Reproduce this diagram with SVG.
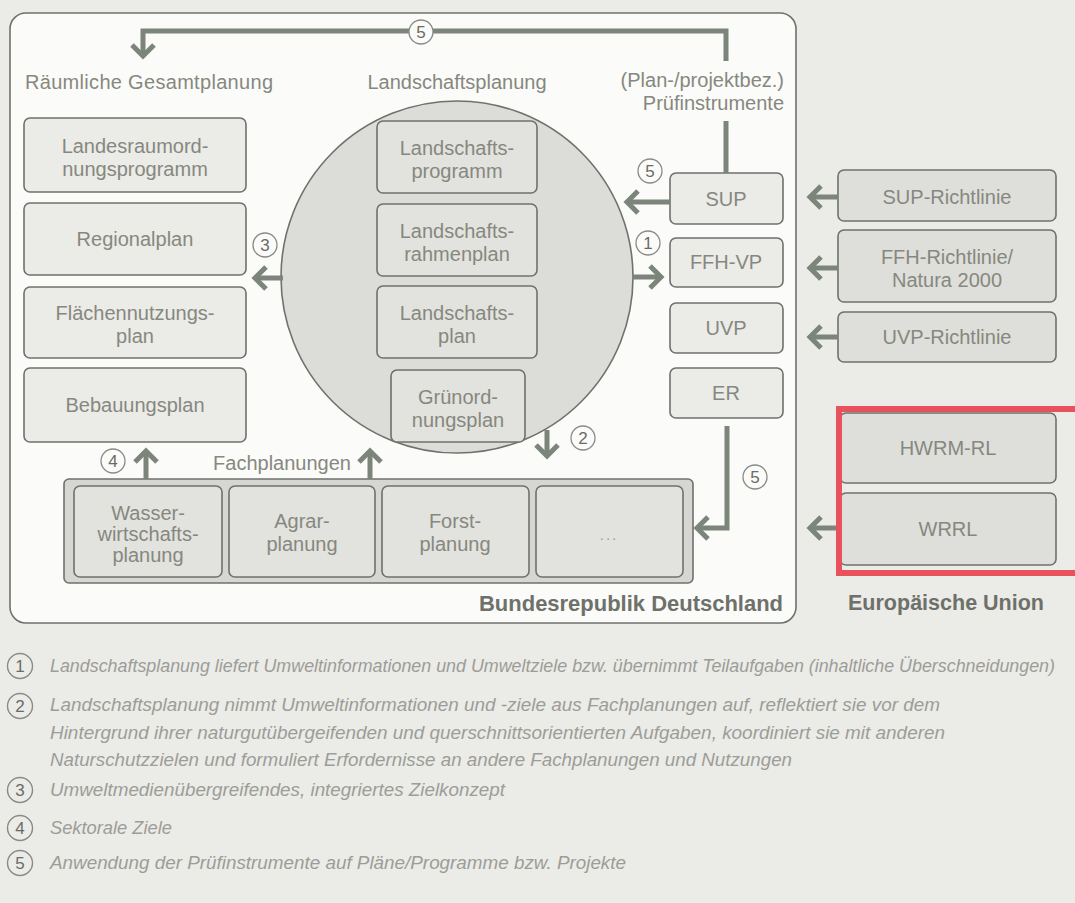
<svg xmlns="http://www.w3.org/2000/svg" width="1075" height="903" viewBox="0 0 1075 903">
<defs>
<style>
.n{font-family:"Liberation Sans",Arial,sans-serif;font-size:20px;fill:#86887f;text-anchor:middle}
.h{font-family:"Liberation Sans",Arial,sans-serif;font-size:20px;fill:#86887f}
.b{font-family:"Liberation Sans",Arial,sans-serif;font-size:22px;font-weight:bold;fill:#6e706a}
.lg{font-family:"Liberation Sans",Arial,sans-serif;font-size:18px;font-style:italic;fill:#9c9d98}
.num{font-family:"Liberation Sans",Arial,sans-serif;font-size:17px;fill:#6a6b66;text-anchor:middle}
.box{fill:#ebebe7;stroke:#6f716c;stroke-width:1.6}
.ibox{fill:#e2e2de;stroke:#6f716c;stroke-width:1.6}
.eu{fill:#dededa;stroke:#6f716c;stroke-width:1.6}
.cn{fill:#fbfbf9;stroke:#8a8b86;stroke-width:1.3}
.lc{fill:none;stroke:#8a8b86;stroke-width:1.4}
.ar{fill:none;stroke:#7b8579;stroke-width:5;stroke-linejoin:miter}
</style>
<marker id="ah" markerUnits="userSpaceOnUse" markerWidth="32" markerHeight="32" viewBox="-16 -16 32 32" refX="0" refY="0" orient="auto">
<path d="M-11,-11 L0,0 L-11,11" fill="none" stroke="#7b8579" stroke-width="5"/>
</marker>
</defs>
<rect x="0" y="0" width="1075" height="903" fill="#ebebe7"/>
<rect id="panel" x="10" y="13" width="786" height="610" rx="16" fill="#fbfbf9" stroke="#6f716c" stroke-width="1.6"/>

<g id="headings">
<text class="h" x="25" y="89" textLength="248">Räumliche Gesamtplanung</text>
<text class="n" x="457" y="89">Landschaftsplanung</text>
<text class="h" x="784" y="87" text-anchor="end">(Plan-/projektbez.)</text>
<text class="h" x="784" y="110" text-anchor="end">Prüfinstrumente</text>
<text class="n" x="282" y="470">Fachplanungen</text>
<text class="b" x="479" y="611" textLength="304" lengthAdjust="spacingAndGlyphs">Bundesrepublik Deutschland</text>
<text class="b" x="848" y="610" textLength="196" lengthAdjust="spacingAndGlyphs">Europäische Union</text>
</g>

<g id="landesraumordnungsprogramm"><rect class="box" x="24" y="118" width="222" height="74" rx="6"/><text class="n" x="135" y="153">Landesraumord-</text><text class="n" x="135" y="176">nungsprogramm</text></g>
<g id="regionalplan"><rect class="box" x="24" y="203" width="222" height="72" rx="6"/><text class="n" x="135" y="246">Regionalplan</text></g>
<g id="flaechennutzungsplan"><rect class="box" x="24" y="287" width="222" height="71" rx="6"/><text class="n" x="135" y="320">Flächennutzungs-</text><text class="n" x="135" y="343">plan</text></g>
<g id="bebauungsplan"><rect class="box" x="24" y="368" width="222" height="74" rx="6"/><text class="n" x="135" y="412">Bebauungsplan</text></g>

<circle id="landschaftsplanung-kreis" cx="457" cy="277" r="176" fill="#dcdcd8" stroke="#6f716c" stroke-width="1.6"/>
<g id="landschaftsprogramm"><rect class="ibox" x="377" y="121" width="160" height="72" rx="6"/><text class="n" x="457" y="155">Landschafts-</text><text class="n" x="457" y="178">programm</text></g>
<g id="landschaftsrahmenplan"><rect class="ibox" x="377" y="204" width="160" height="72" rx="6"/><text class="n" x="457" y="238">Landschafts-</text><text class="n" x="457" y="261">rahmenplan</text></g>
<g id="landschaftsplan"><rect class="ibox" x="377" y="286" width="160" height="72" rx="6"/><text class="n" x="457" y="320">Landschafts-</text><text class="n" x="457" y="343">plan</text></g>
<g id="gruenordnungsplan"><rect class="ibox" x="391" y="370" width="134" height="72" rx="6"/><text class="n" x="458" y="404">Grünord-</text><text class="n" x="458" y="427">nungsplan</text></g>

<g id="sup"><rect class="box" x="670" y="173" width="113" height="51" rx="6"/><text class="n" x="726" y="206">SUP</text></g>
<g id="ffh-vp"><rect class="box" x="670" y="238" width="113" height="49" rx="6"/><text class="n" x="726" y="269">FFH-VP</text></g>
<g id="uvp"><rect class="box" x="670" y="303" width="113" height="50" rx="6"/><text class="n" x="726" y="335">UVP</text></g>
<g id="er"><rect class="box" x="670" y="368" width="113" height="50" rx="6"/><text class="n" x="726" y="400">ER</text></g>

<g id="fachplanungen">
<rect x="64" y="479" width="629" height="104" rx="5" fill="#d6d6d2" stroke="#6f716c" stroke-width="1.6"/>
<g id="wasserwirtschaftsplanung"><rect class="ibox" x="74" y="486" width="148" height="91" rx="6"/><text class="n" x="148" y="520">Wasser-</text><text class="n" x="148" y="541">wirtschafts-</text><text class="n" x="148" y="562">planung</text></g>
<g id="agrarplanung"><rect class="ibox" x="229" y="486" width="146" height="91" rx="6"/><text class="n" x="302" y="528">Agrar-</text><text class="n" x="302" y="551">planung</text></g>
<g id="forstplanung"><rect class="ibox" x="382" y="486" width="147" height="91" rx="6"/><text class="n" x="455" y="528">Forst-</text><text class="n" x="455" y="551">planung</text></g>
<g id="weitere"><rect class="ibox" x="536" y="486" width="147" height="91" rx="6"/><text class="n" x="609" y="540" style="font-size:15px;letter-spacing:2px;fill:#a0a19c">...</text></g>
</g>

<g id="sup-richtlinie"><rect class="eu" x="838" y="170" width="218" height="51" rx="6"/><text class="n" x="947" y="204">SUP-Richtlinie</text></g>
<g id="ffh-richtlinie"><rect class="eu" x="838" y="230" width="218" height="72" rx="6"/><text class="n" x="947" y="264">FFH-Richtlinie/</text><text class="n" x="947" y="287">Natura 2000</text></g>
<g id="uvp-richtlinie"><rect class="eu" x="838" y="312" width="218" height="50" rx="6"/><text class="n" x="947" y="344">UVP-Richtlinie</text></g>
<g id="hwrm-rl"><rect class="eu" x="840" y="413" width="216" height="70" rx="6"/><text class="n" x="948" y="455">HWRM-RL</text></g>
<g id="wrrl"><rect class="eu" x="840" y="493" width="216" height="72" rx="6"/><text class="n" x="948" y="536">WRRL</text></g>
<rect id="markierung" x="839" y="409" width="250" height="164" fill="none" stroke="#e8525c" stroke-width="6"/>

<g id="connectors">
<path class="ar" d="M726,61 V31 H143 V56" marker-end="url(#ah)"/>
<path class="ar" d="M726,173 V121"/>
<path class="ar" d="M670,202 H627" marker-end="url(#ah)"/>
<path class="ar" d="M632,277 H661" marker-end="url(#ah)"/>
<path class="ar" d="M283,278 H255" marker-end="url(#ah)"/>
<path class="ar" d="M547,430 V456" marker-end="url(#ah)"/>
<path class="ar" d="M146,479 V451" marker-end="url(#ah)"/>
<path class="ar" d="M370,479 V451" marker-end="url(#ah)"/>
<path class="ar" d="M727,426 V528 H697" marker-end="url(#ah)"/>
<path class="ar" d="M838,197 H810" marker-end="url(#ah)"/>
<path class="ar" d="M838,268 H810" marker-end="url(#ah)"/>
<path class="ar" d="M838,337 H810" marker-end="url(#ah)"/>
<path class="ar" d="M836,528 H810" marker-end="url(#ah)"/>
</g>

<g id="marks">
<circle class="cn" cx="421" cy="32" r="12"/><text class="num" x="421" y="38">5</text>
<circle class="cn" cx="650" cy="171" r="12"/><text class="num" x="650" y="177">5</text>
<circle class="cn" cx="648" cy="243" r="12"/><text class="num" x="648" y="249">1</text>
<circle class="cn" cx="265" cy="245" r="12"/><text class="num" x="265" y="251">3</text>
<circle class="cn" cx="583" cy="438" r="12"/><text class="num" x="583" y="444">2</text>
<circle class="cn" cx="113" cy="461" r="12"/><text class="num" x="113" y="467">4</text>
<circle class="cn" cx="755" cy="477" r="12"/><text class="num" x="755" y="483">5</text>
</g>

<g id="legende">
<circle class="lc" cx="20" cy="666" r="12.5"/><text class="num" x="20" y="672">1</text>
<circle class="lc" cx="20" cy="706" r="12.5"/><text class="num" x="20" y="712">2</text>
<circle class="lc" cx="20" cy="790" r="12.5"/><text class="num" x="20" y="796">3</text>
<circle class="lc" cx="20" cy="828" r="12.5"/><text class="num" x="20" y="834">4</text>
<circle class="lc" cx="20" cy="863" r="12.5"/><text class="num" x="20" y="869">5</text>
<text class="lg" x="50" y="672" textLength="1005" lengthAdjust="spacingAndGlyphs">Landschaftsplanung liefert Umweltinformationen und Umweltziele bzw. übernimmt Teilaufgaben (inhaltliche Überschneidungen)</text>
<text class="lg" x="50" y="711" textLength="890" lengthAdjust="spacingAndGlyphs">Landschaftsplanung nimmt Umweltinformationen und -ziele aus Fachplanungen auf, reflektiert sie vor dem</text>
<text class="lg" x="50" y="739" textLength="895" lengthAdjust="spacingAndGlyphs">Hintergrund ihrer naturgutübergeifenden und querschnittsorientierten Aufgaben, koordiniert sie mit anderen</text>
<text class="lg" x="50" y="766" textLength="742" lengthAdjust="spacingAndGlyphs">Naturschutzzielen und formuliert Erfordernisse an andere Fachplanungen und Nutzungen</text>
<text class="lg" x="50" y="796" textLength="455" lengthAdjust="spacingAndGlyphs">Umweltmedienübergreifendes, integriertes Zielkonzept</text>
<text class="lg" x="50" y="834" textLength="122" lengthAdjust="spacingAndGlyphs">Sektorale Ziele</text>
<text class="lg" x="50" y="869" textLength="576" lengthAdjust="spacingAndGlyphs">Anwendung der Prüfinstrumente auf Pläne/Programme bzw. Projekte</text>
</g>
</svg>
